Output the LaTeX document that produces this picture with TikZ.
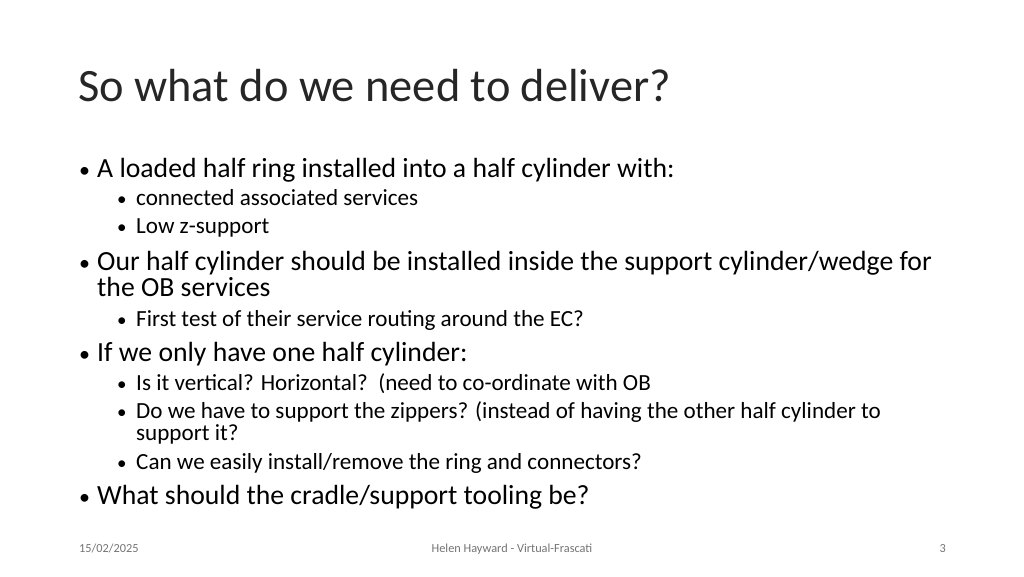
\documentclass[tikz,border=0pt]{standalone}
\usepackage{fontspec}
\setmainfont{Carlito}
\begin{document}
\begin{tikzpicture}[x=1pt,y=-1pt,
  title/.style={anchor=base west,inner sep=0,font=\fontsize{46.4}{52}\selectfont,text=black!85},
  lone/.style={anchor=base west,inner sep=0,font=\fontsize{27.7}{32}\selectfont},
  ltwo/.style={anchor=base west,inner sep=0,font=\fontsize{23.1}{27}\selectfont},
  bone/.style={anchor=base west,inner sep=0,font=\fontsize{22}{26}\selectfont},
  btwo/.style={anchor=base west,inner sep=0,font=\fontsize{19}{22}\selectfont},
  foot/.style={anchor=base,inner sep=0,font=\fontsize{12.3}{14}\selectfont,text=black!55}]
\useasboundingbox (0,0) rectangle (1024,576);
\node[title] (t) at (78,101) {So what do we need to deliver?};
\node[bone] (b1) at (79,177) {•};
\node[lone] (l1) at (97,177) {A loaded half ring installed into a half cylinder with:};
\node[btwo] (b2) at (117,205) {•};
\node[ltwo] (l2) at (136,205) {connected associated services};
\node[btwo] (b3) at (117,233) {•};
\node[ltwo] (l3) at (136,233) {Low z-support};
\node[bone] (b4) at (79,270) {•};
\node[lone] (l4) at (97,270) {Our half cylinder should be installed inside the support cylinder/wedge for};
\node[lone] (l4b) at (97,296) {the OB services};
\node[btwo] (b5) at (117,326) {•};
\node[ltwo] (l5) at (136,326) {First test of their service routing around the EC?};
\node[bone] (b6) at (79,361) {•};
\node[lone] (l6) at (97,361) {If we only have one half cylinder:};
\node[btwo] (b7) at (117,390) {•};
\node[ltwo] (l7) at (136,390) {Is it vertical? Horizontal?\ \ (need to co-ordinate with OB};
\node[btwo] (b8) at (117,418) {•};
\node[ltwo] (l8) at (136,418) {Do we have to support the zippers? (instead of having the other half cylinder to};
\node[ltwo] (l8b) at (136,440) {support it?};
\node[btwo] (b9) at (117,469) {•};
\node[ltwo] (l9) at (136,469) {Can we easily install/remove the ring and connectors?};
\node[bone] (b10) at (79,504) {•};
\node[lone] (l10) at (97,504) {What should the cradle/support tooling be?};
\node[foot,anchor=base west] (f1) at (79,552) {15/02/2025};
\node[foot] (f2) at (512,552) {Helen Hayward - Virtual-Frascati};
\node[foot,anchor=base east] (f3) at (946,552) {3};
\end{tikzpicture}
\end{document}
